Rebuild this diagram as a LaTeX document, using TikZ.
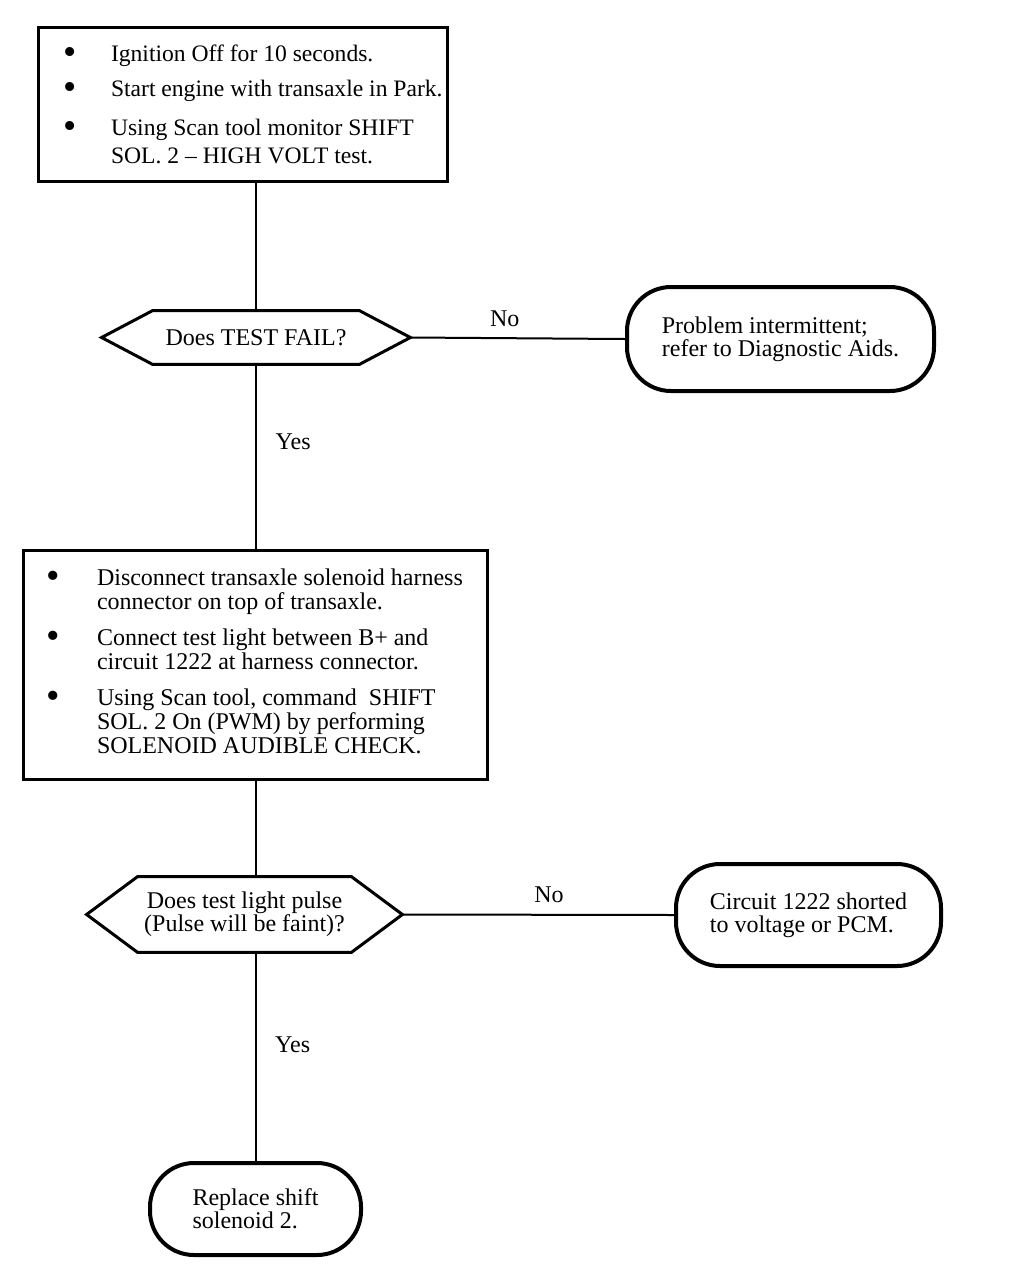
\documentclass[tikz,border=0pt]{standalone}
\usepackage{graphicx}
\usepackage{fontspec}
\setmainfont{Liberation Serif}
\usetikzlibrary{calc}
\newcommand{\blob}{\raisebox{-1.6pt}{\scalebox{1.6}{\textbullet}}}
\begin{document}
\begin{tikzpicture}[x=0.5pt, y=-0.5pt,
  stepbox/.style={draw, line width=1.5pt, inner sep=0pt},
  ask/.style={inner sep=0pt, align=flush center, font=\fontsize{12}{11.5}\selectfont},
  term/.style={draw, line width=2pt, rounded corners=22pt, inner sep=0pt, align=flush left, font=\fontsize{12}{11.5}\selectfont},
  edge/.style={line width=1pt},
  answer/.style={font=\fontsize{12}{14}\selectfont}]
  \useasboundingbox (0,0) rectangle (1008,1270);
  % steps
  \node[stepbox, minimum height=77pt, font=\fontsize{11.8}{14}\selectfont] (check) at (242.5,104) {%
    \makebox[204.5pt][l]{\hspace{13pt}\begin{tabular}{@{}p{23.5pt}@{}l@{}}
      \rule{0pt}{12.5pt}\blob & Ignition Off for 10 seconds.\\[3.5pt]
      \blob & Start engine with transaxle in Park.\\[5.5pt]
      \blob & Using Scan tool monitor SHIFT\\
            & SOL. 2 -- HIGH VOLT test.
    \end{tabular}}};
  \node[stepbox, minimum height=114.5pt, font=\fontsize{12}{12}\selectfont] (disc) at (255,664.5) {%
    \makebox[232pt][l]{\hspace{12pt}\begin{tabular}{@{}p{25pt}@{}l@{}}
      \blob & Disconnect transaxle solenoid harness\\
            & connector on top of transaxle.\\[6pt]
      \blob & Connect test light between B+ and\\
            & circuit 1222 at harness connector.\\[6pt]
      \blob & Using Scan tool, command \ SHIFT\\
            & SOL. 2 On (PWM) by performing\\
            & SOLENOID AUDIBLE CHECK.
    \end{tabular}}};
  % questions
  \node[ask, minimum width=154pt, minimum height=26.5pt] (fail) at (256,337.5) {Does TEST FAIL?};
  \node[ask, minimum width=157.5pt, minimum height=37.5pt] (pulse) at (244.5,914.5) {Does test light pulse\\(Pulse will be faint)?};
  \foreach \n in {fail, pulse}
    \draw[line width=1.5pt] (\n.west) -- ($(\n.north west)+(51,0)$) -- ($(\n.north east)+(-51,0)$)
      -- (\n.east) -- ($(\n.south east)+(-51,0)$) -- ($(\n.south west)+(51,0)$) -- cycle;
  % results
  \node[term, minimum width=153.5pt, minimum height=52pt] (prob) at (780.5,339) {Problem intermittent;\\refer to Diagnostic Aids.};
  \node[term, minimum width=132.5pt, minimum height=51pt] (short) at (808.5,915) {Circuit 1222 shorted\\to voltage or PCM.};
  \node[term, minimum width=105.5pt, minimum height=46pt] (rep) at (255.5,1209) {Replace shift\\solenoid 2.};
  % connectors
  \draw[edge] (check.south -| fail) -- (fail.north);
  \draw[edge] (fail.east) -- node[answer, above, yshift=2pt, pos=0.44] {No} (prob.west);
  \draw[edge] (fail.south) -- node[answer, right, xshift=6pt, pos=0.42] {Yes} (fail.south |- disc.north);
  \draw[edge] (disc.south -| rep) -- (pulse.north -| rep);
  \draw[edge] (pulse.east) -- node[answer, above, yshift=2pt, pos=0.54] {No} (short.west);
  \draw[edge] (pulse.south -| rep) -- node[answer, right, xshift=6pt, pos=0.445] {Yes} (rep.north);
\end{tikzpicture}
\end{document}
